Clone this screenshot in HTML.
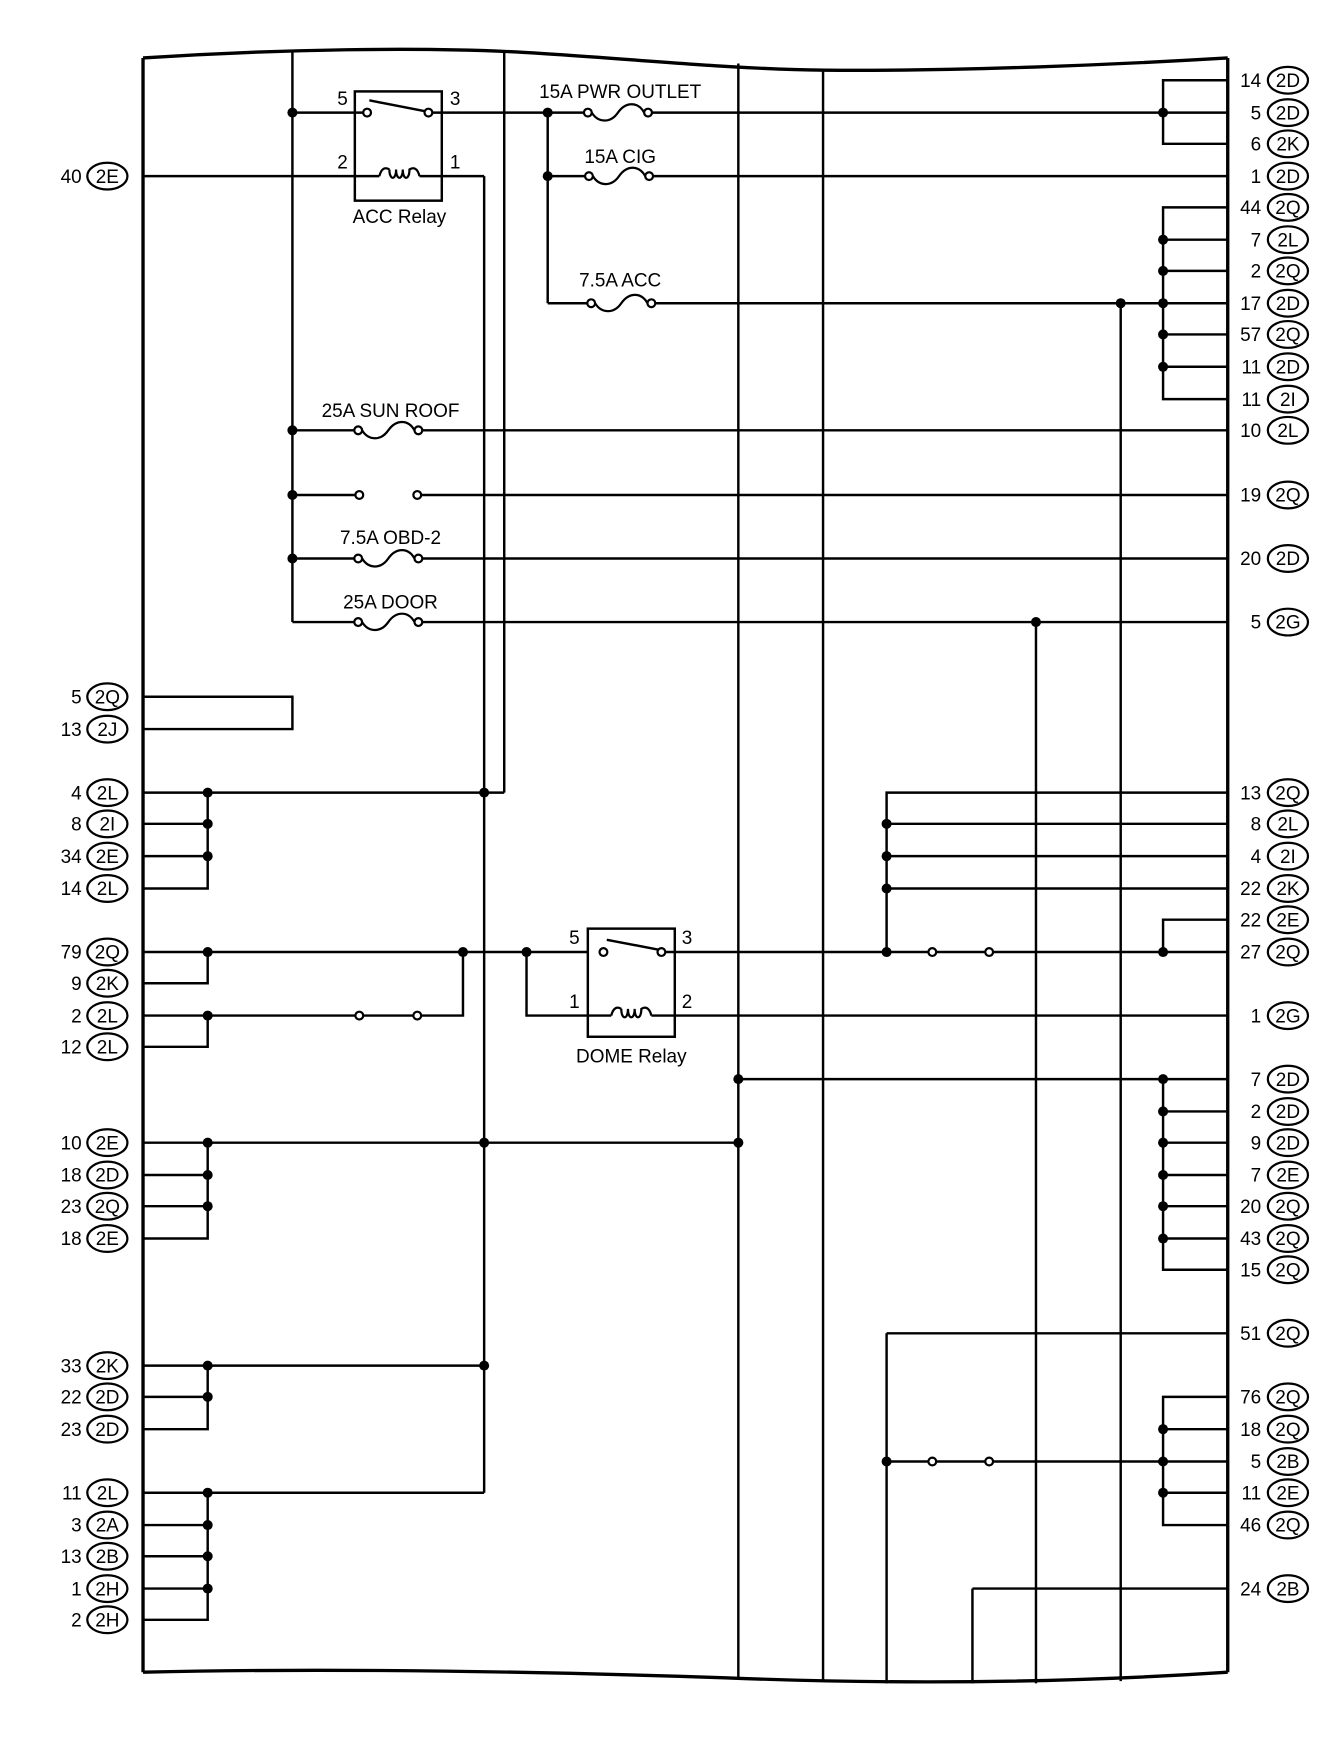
<!DOCTYPE html>
<html><head><meta charset="utf-8"><style>
html,body{margin:0;padding:0;background:#fff;}
svg{display:block;}
text{font-family:"Liberation Sans",sans-serif;font-size:17px;fill:#000;}
</style></head><body>
<svg width="1344" height="1748" viewBox="0 0 1205 1568" xmlns="http://www.w3.org/2000/svg">
<defs>
<g id="fuse"><circle cx="0" cy="0" r="3.5" fill="#fff" stroke="#000" stroke-width="2"/><circle cx="54" cy="0" r="3.5" fill="#fff" stroke="#000" stroke-width="2"/><path d="M3.5 0 C9 9 20 10 27 0 S45 -10 50.5 0" fill="none" stroke="#000" stroke-width="2"/></g>
<g id="coil"><path d="M0 0 C2 -8 6 -8 9 -6 M9 -6 c0 10 6 10 6 0 c0 10 6 10 6 0 c0 10 6 10 6 0 C30 -8 34 -8 36 0" fill="none" stroke="#000" stroke-width="2"/></g>
</defs>
<g stroke="#000" stroke-width="2.2" fill="none">
<path d="M128 52 C250 44 380 42 470 47 C560 52 650 62 740 63 C860 64 1000 58 1101 52" stroke-width="3"/>
<path d="M128 1500 C300 1496 500 1500 650 1505 C800 1511 950 1510 1101 1500" stroke-width="3"/>
<line x1="128" y1="52" x2="128" y2="1500" stroke-width="3"/>
<line x1="1101" y1="52" x2="1101" y2="1500" stroke-width="3"/>
<line x1="262" y1="46" x2="262" y2="558"/>
<line x1="452" y1="45" x2="452" y2="711"/>
<line x1="434" y1="158" x2="434" y2="1339"/>
<line x1="662" y1="57" x2="662" y2="1505"/>
<line x1="738" y1="62" x2="738" y2="1508"/>
<line x1="491" y1="101" x2="491" y2="272"/>
<line x1="1005" y1="272" x2="1005" y2="1508"/>
<line x1="929" y1="558" x2="929" y2="1510"/>
<line x1="795" y1="1196" x2="795" y2="1510"/>
<line x1="872" y1="1425" x2="872" y2="1510"/>
<rect x="318" y="82" width="78" height="98"/>
<line x1="262" y1="101" x2="326" y2="101"/>
<line x1="331" y1="90" x2="382" y2="100"/>
<line x1="387" y1="101" x2="523" y2="101"/>
<line x1="582" y1="101" x2="1101" y2="101"/>
<line x1="128" y1="158" x2="340" y2="158"/>
<line x1="376" y1="158" x2="434" y2="158"/>
<line x1="491" y1="158" x2="525" y2="158"/>
<line x1="582" y1="158" x2="1101" y2="158"/>
<line x1="491" y1="272" x2="527" y2="272"/>
<line x1="584" y1="272" x2="1101" y2="272"/>
<polyline points="1101,72 1043,72 1043,129 1101,129"/>
<polyline points="1101,186 1043,186 1043,358 1101,358"/>
<line x1="1043" y1="215" x2="1101" y2="215"/>
<line x1="1043" y1="243" x2="1101" y2="243"/>
<line x1="1043" y1="300" x2="1101" y2="300"/>
<line x1="1043" y1="329" x2="1101" y2="329"/>
<line x1="262" y1="386" x2="318" y2="386"/><line x1="374" y1="386" x2="1101" y2="386"/>
<line x1="262" y1="444" x2="319" y2="444"/><line x1="377" y1="444" x2="1101" y2="444"/>
<line x1="262" y1="501" x2="318" y2="501"/><line x1="374" y1="501" x2="1101" y2="501"/>
<polyline points="262,558 318,558"/><line x1="374" y1="558" x2="1101" y2="558"/>
<polyline points="128,625 262,625 262,654 128,654"/>
<polyline points="128,711 452,711"/>
<polyline points="186,711 186,797 128,797"/>
<line x1="128" y1="739" x2="186" y2="739"/>
<line x1="128" y1="768" x2="186" y2="768"/>
<line x1="128" y1="854" x2="527" y2="854"/>
<polyline points="186,854 186,882 128,882"/>
<line x1="128" y1="911" x2="374" y2="911"/>
<polyline points="374,911 415,911 415,854"/>
<polyline points="186,911 186,939 128,939"/>
<polyline points="472,854 472,911 548,911"/>
<rect x="527" y="833" width="78" height="97"/>
<line x1="544" y1="843" x2="591" y2="852"/>
<line x1="596" y1="854" x2="1101" y2="854"/>
<line x1="584" y1="911" x2="1101" y2="911"/>
<polyline points="1101,711 795,711 795,854"/>
<line x1="795" y1="739" x2="1101" y2="739"/>
<line x1="795" y1="768" x2="1101" y2="768"/>
<line x1="795" y1="797" x2="1101" y2="797"/>
<polyline points="1101,825 1043,825 1043,854"/>
<line x1="662" y1="968" x2="1101" y2="968"/>
<polyline points="1043,968 1043,1139 1101,1139"/>
<line x1="1043" y1="997" x2="1101" y2="997"/>
<line x1="1043" y1="1025" x2="1101" y2="1025"/>
<line x1="1043" y1="1054" x2="1101" y2="1054"/>
<line x1="1043" y1="1082" x2="1101" y2="1082"/>
<line x1="1043" y1="1111" x2="1101" y2="1111"/>
<line x1="128" y1="1025" x2="662" y2="1025"/>
<polyline points="186,1025 186,1111 128,1111"/>
<line x1="128" y1="1054" x2="186" y2="1054"/>
<line x1="128" y1="1082" x2="186" y2="1082"/>
<line x1="128" y1="1225" x2="434" y2="1225"/>
<polyline points="186,1225 186,1282 128,1282"/>
<line x1="128" y1="1253" x2="186" y2="1253"/>
<polyline points="128,1339 434,1339"/>
<polyline points="186,1339 186,1453 128,1453"/>
<line x1="128" y1="1368" x2="186" y2="1368"/>
<line x1="128" y1="1396" x2="186" y2="1396"/>
<line x1="128" y1="1425" x2="186" y2="1425"/>
<line x1="795" y1="1196" x2="1101" y2="1196"/>
<line x1="795" y1="1311" x2="1101" y2="1311"/>
<polyline points="1101,1253 1043,1253 1043,1368 1101,1368"/>
<line x1="1043" y1="1282" x2="1101" y2="1282"/>
<line x1="1043" y1="1339" x2="1101" y2="1339"/>
<line x1="872" y1="1425" x2="1101" y2="1425"/>
</g>
<use href="#fuse" x="527" y="101"/>
<use href="#fuse" x="528" y="158"/>
<use href="#fuse" x="530" y="272"/>
<use href="#fuse" x="321" y="386"/>
<use href="#fuse" x="321" y="501"/>
<use href="#fuse" x="321" y="558"/>
<use href="#coil" x="340" y="158"/>
<use href="#coil" x="548" y="911"/>
<g fill="#fff" stroke="#000" stroke-width="2">
<circle cx="322" cy="444" r="3.5"/><circle cx="374" cy="444" r="3.5"/>
<circle cx="329" cy="101" r="3.5"/><circle cx="384" cy="101" r="3.5"/>
<circle cx="541" cy="854" r="3.5"/><circle cx="593" cy="854" r="3.5"/>
<circle cx="322" cy="911" r="3.5"/><circle cx="374" cy="911" r="3.5"/>
<circle cx="836" cy="854" r="3.5"/><circle cx="887" cy="854" r="3.5"/>
<circle cx="836" cy="1311" r="3.5"/><circle cx="887" cy="1311" r="3.5"/>
</g>
<g fill="#000">
<circle cx="262" cy="101" r="4.5"/><circle cx="262" cy="386" r="4.5"/><circle cx="262" cy="444" r="4.5"/><circle cx="262" cy="501" r="4.5"/>
<circle cx="491" cy="101" r="4.5"/><circle cx="491" cy="158" r="4.5"/><circle cx="1005" cy="272" r="4.5"/>
<circle cx="1043" cy="101" r="4.5"/><circle cx="1043" cy="215" r="4.5"/><circle cx="1043" cy="243" r="4.5"/><circle cx="1043" cy="272" r="4.5"/><circle cx="1043" cy="300" r="4.5"/><circle cx="1043" cy="329" r="4.5"/>
<circle cx="929" cy="558" r="4.5"/>
<circle cx="186" cy="711" r="4.5"/><circle cx="434" cy="711" r="4.5"/><circle cx="186" cy="739" r="4.5"/><circle cx="186" cy="768" r="4.5"/>
<circle cx="186" cy="854" r="4.5"/><circle cx="415" cy="854" r="4.5"/><circle cx="472" cy="854" r="4.5"/><circle cx="186" cy="911" r="4.5"/>
<circle cx="795" cy="739" r="4.5"/><circle cx="795" cy="768" r="4.5"/><circle cx="795" cy="797" r="4.5"/><circle cx="795" cy="854" r="4.5"/><circle cx="1043" cy="854" r="4.5"/>
<circle cx="662" cy="968" r="4.5"/><circle cx="1043" cy="968" r="4.5"/><circle cx="1043" cy="997" r="4.5"/><circle cx="1043" cy="1025" r="4.5"/><circle cx="1043" cy="1054" r="4.5"/><circle cx="1043" cy="1082" r="4.5"/><circle cx="1043" cy="1111" r="4.5"/>
<circle cx="186" cy="1025" r="4.5"/><circle cx="434" cy="1025" r="4.5"/><circle cx="662" cy="1025" r="4.5"/><circle cx="186" cy="1054" r="4.5"/><circle cx="186" cy="1082" r="4.5"/>
<circle cx="186" cy="1225" r="4.5"/><circle cx="434" cy="1225" r="4.5"/><circle cx="186" cy="1253" r="4.5"/>
<circle cx="186" cy="1339" r="4.5"/><circle cx="186" cy="1368" r="4.5"/><circle cx="186" cy="1396" r="4.5"/><circle cx="186" cy="1425" r="4.5"/>
<circle cx="795" cy="1311" r="4.5"/><circle cx="1043" cy="1282" r="4.5"/><circle cx="1043" cy="1311" r="4.5"/><circle cx="1043" cy="1339" r="4.5"/>
</g>
<text x="307" y="94" text-anchor="middle">5</text><text x="408" y="94" text-anchor="middle">3</text>
<text x="307" y="151" text-anchor="middle">2</text><text x="408" y="151" text-anchor="middle">1</text>
<text x="358" y="200" text-anchor="middle">ACC Relay</text>
<text x="556" y="88" text-anchor="middle">15A PWR OUTLET</text>
<text x="556" y="146" text-anchor="middle">15A CIG</text>
<text x="556" y="257" text-anchor="middle">7.5A ACC</text>
<text x="350" y="374" text-anchor="middle">25A SUN ROOF</text>
<text x="350" y="488" text-anchor="middle">7.5A OBD-2</text>
<text x="350" y="546" text-anchor="middle">25A DOOR</text>
<text x="515" y="847" text-anchor="middle">5</text><text x="616" y="847" text-anchor="middle">3</text>
<text x="515" y="904" text-anchor="middle">1</text><text x="616" y="904" text-anchor="middle">2</text>
<text x="566" y="953" text-anchor="middle">DOME Relay</text>
<g>
<g fill="#fff" stroke="#000" stroke-width="2">
<ellipse cx="1155" cy="72" rx="18" ry="12"/><ellipse cx="1155" cy="101" rx="18" ry="12"/><ellipse cx="1155" cy="129" rx="18" ry="12"/><ellipse cx="1155" cy="158" rx="18" ry="12"/><ellipse cx="1155" cy="186" rx="18" ry="12"/><ellipse cx="1155" cy="215" rx="18" ry="12"/><ellipse cx="1155" cy="243" rx="18" ry="12"/><ellipse cx="1155" cy="272" rx="18" ry="12"/><ellipse cx="1155" cy="300" rx="18" ry="12"/><ellipse cx="1155" cy="329" rx="18" ry="12"/><ellipse cx="1155" cy="358" rx="18" ry="12"/><ellipse cx="1155" cy="386" rx="18" ry="12"/><ellipse cx="1155" cy="444" rx="18" ry="12"/><ellipse cx="1155" cy="501" rx="18" ry="12"/><ellipse cx="1155" cy="558" rx="18" ry="12"/>
<ellipse cx="1155" cy="711" rx="18" ry="12"/><ellipse cx="1155" cy="739" rx="18" ry="12"/><ellipse cx="1155" cy="768" rx="18" ry="12"/><ellipse cx="1155" cy="797" rx="18" ry="12"/><ellipse cx="1155" cy="825" rx="18" ry="12"/><ellipse cx="1155" cy="854" rx="18" ry="12"/><ellipse cx="1155" cy="911" rx="18" ry="12"/><ellipse cx="1155" cy="968" rx="18" ry="12"/><ellipse cx="1155" cy="997" rx="18" ry="12"/><ellipse cx="1155" cy="1025" rx="18" ry="12"/><ellipse cx="1155" cy="1054" rx="18" ry="12"/><ellipse cx="1155" cy="1082" rx="18" ry="12"/><ellipse cx="1155" cy="1111" rx="18" ry="12"/><ellipse cx="1155" cy="1139" rx="18" ry="12"/><ellipse cx="1155" cy="1196" rx="18" ry="12"/><ellipse cx="1155" cy="1253" rx="18" ry="12"/><ellipse cx="1155" cy="1282" rx="18" ry="12"/><ellipse cx="1155" cy="1311" rx="18" ry="12"/><ellipse cx="1155" cy="1339" rx="18" ry="12"/><ellipse cx="1155" cy="1368" rx="18" ry="12"/><ellipse cx="1155" cy="1425" rx="18" ry="12"/>
</g>
<g text-anchor="end">
<text x="1131" y="78">14</text><text x="1131" y="107">5</text><text x="1131" y="135">6</text><text x="1131" y="164">1</text><text x="1131" y="192">44</text><text x="1131" y="221">7</text><text x="1131" y="249">2</text><text x="1131" y="278">17</text><text x="1131" y="306">57</text><text x="1131" y="335">11</text><text x="1131" y="364">11</text><text x="1131" y="392">10</text><text x="1131" y="450">19</text><text x="1131" y="507">20</text><text x="1131" y="564">5</text>
<text x="1131" y="717">13</text><text x="1131" y="745">8</text><text x="1131" y="774">4</text><text x="1131" y="803">22</text><text x="1131" y="831">22</text><text x="1131" y="860">27</text><text x="1131" y="917">1</text><text x="1131" y="974">7</text><text x="1131" y="1003">2</text><text x="1131" y="1031">9</text><text x="1131" y="1060">7</text><text x="1131" y="1088">20</text><text x="1131" y="1117">43</text><text x="1131" y="1145">15</text><text x="1131" y="1202">51</text><text x="1131" y="1259">76</text><text x="1131" y="1288">18</text><text x="1131" y="1317">5</text><text x="1131" y="1345">11</text><text x="1131" y="1374">46</text><text x="1131" y="1431">24</text>
</g>
<g text-anchor="middle">
<text x="1155" y="78">2D</text><text x="1155" y="107">2D</text><text x="1155" y="135">2K</text><text x="1155" y="164">2D</text><text x="1155" y="192">2Q</text><text x="1155" y="221">2L</text><text x="1155" y="249">2Q</text><text x="1155" y="278">2D</text><text x="1155" y="306">2Q</text><text x="1155" y="335">2D</text><text x="1155" y="364">2I</text><text x="1155" y="392">2L</text><text x="1155" y="450">2Q</text><text x="1155" y="507">2D</text><text x="1155" y="564">2G</text>
<text x="1155" y="717">2Q</text><text x="1155" y="745">2L</text><text x="1155" y="774">2I</text><text x="1155" y="803">2K</text><text x="1155" y="831">2E</text><text x="1155" y="860">2Q</text><text x="1155" y="917">2G</text><text x="1155" y="974">2D</text><text x="1155" y="1003">2D</text><text x="1155" y="1031">2D</text><text x="1155" y="1060">2E</text><text x="1155" y="1088">2Q</text><text x="1155" y="1117">2Q</text><text x="1155" y="1145">2Q</text><text x="1155" y="1202">2Q</text><text x="1155" y="1259">2Q</text><text x="1155" y="1288">2Q</text><text x="1155" y="1317">2B</text><text x="1155" y="1345">2E</text><text x="1155" y="1374">2Q</text><text x="1155" y="1431">2B</text>
</g>
</g>
<g>
<g fill="#fff" stroke="#000" stroke-width="2">
<ellipse cx="96" cy="158" rx="18" ry="12"/><ellipse cx="96" cy="625" rx="18" ry="12"/><ellipse cx="96" cy="654" rx="18" ry="12"/><ellipse cx="96" cy="711" rx="18" ry="12"/><ellipse cx="96" cy="739" rx="18" ry="12"/><ellipse cx="96" cy="768" rx="18" ry="12"/><ellipse cx="96" cy="797" rx="18" ry="12"/><ellipse cx="96" cy="854" rx="18" ry="12"/><ellipse cx="96" cy="882" rx="18" ry="12"/><ellipse cx="96" cy="911" rx="18" ry="12"/><ellipse cx="96" cy="939" rx="18" ry="12"/><ellipse cx="96" cy="1025" rx="18" ry="12"/><ellipse cx="96" cy="1054" rx="18" ry="12"/><ellipse cx="96" cy="1082" rx="18" ry="12"/><ellipse cx="96" cy="1111" rx="18" ry="12"/><ellipse cx="96" cy="1225" rx="18" ry="12"/><ellipse cx="96" cy="1253" rx="18" ry="12"/><ellipse cx="96" cy="1282" rx="18" ry="12"/><ellipse cx="96" cy="1339" rx="18" ry="12"/><ellipse cx="96" cy="1368" rx="18" ry="12"/><ellipse cx="96" cy="1396" rx="18" ry="12"/><ellipse cx="96" cy="1425" rx="18" ry="12"/><ellipse cx="96" cy="1453" rx="18" ry="12"/>
</g>
<g text-anchor="end">
<text x="73" y="164">40</text><text x="73" y="631">5</text><text x="73" y="660">13</text><text x="73" y="717">4</text><text x="73" y="745">8</text><text x="73" y="774">34</text><text x="73" y="803">14</text><text x="73" y="860">79</text><text x="73" y="888">9</text><text x="73" y="917">2</text><text x="73" y="945">12</text><text x="73" y="1031">10</text><text x="73" y="1060">18</text><text x="73" y="1088">23</text><text x="73" y="1117">18</text><text x="73" y="1231">33</text><text x="73" y="1259">22</text><text x="73" y="1288">23</text><text x="73" y="1345">11</text><text x="73" y="1374">3</text><text x="73" y="1402">13</text><text x="73" y="1431">1</text><text x="73" y="1459">2</text>
</g>
<g text-anchor="middle">
<text x="96" y="164">2E</text><text x="96" y="631">2Q</text><text x="96" y="660">2J</text><text x="96" y="717">2L</text><text x="96" y="745">2I</text><text x="96" y="774">2E</text><text x="96" y="803">2L</text><text x="96" y="860">2Q</text><text x="96" y="888">2K</text><text x="96" y="917">2L</text><text x="96" y="945">2L</text><text x="96" y="1031">2E</text><text x="96" y="1060">2D</text><text x="96" y="1088">2Q</text><text x="96" y="1117">2E</text><text x="96" y="1231">2K</text><text x="96" y="1259">2D</text><text x="96" y="1288">2D</text><text x="96" y="1345">2L</text><text x="96" y="1374">2A</text><text x="96" y="1402">2B</text><text x="96" y="1431">2H</text><text x="96" y="1459">2H</text>
</g>
</g>
</svg>
</body></html>
